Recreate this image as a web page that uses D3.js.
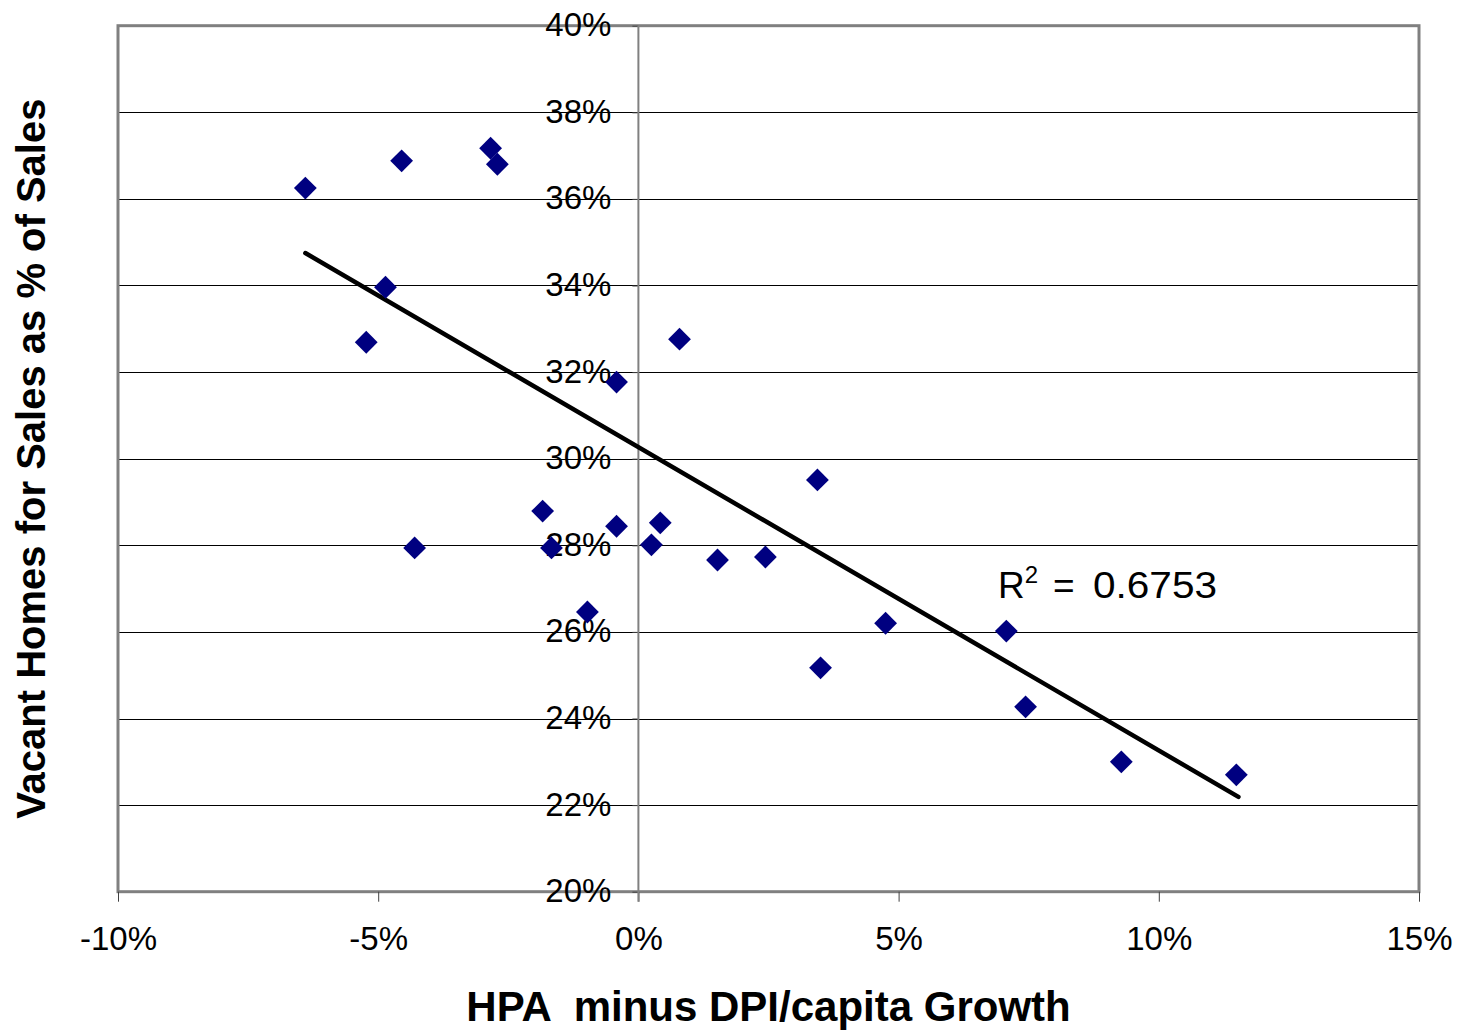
<!DOCTYPE html>
<html>
<head>
<meta charset="utf-8">
<script src="https://cdn.jsdelivr.net/npm/d3@7"></script>
<style>
  body { margin: 0; background: #fff; }
  text { font-family: Arial, "Liberation Sans", sans-serif; fill: #000; white-space: pre; }
</style>
</head>
<body>
<svg width="1463" height="1031"></svg>
<script>
// HPA minus DPI/capita growth (x) vs vacant homes for sale as % of sales (y)
var hpaGap = [-0.0640, -0.0455, -0.0284, -0.0271, -0.0486, -0.0523, -0.0430, -0.0184, -0.0167, -0.0042,
              -0.0042, -0.0098, 0.0025, 0.0042, 0.0079, 0.0152, 0.0244, 0.0344, 0.0350, 0.0475,
              0.0707, 0.0744, 0.0928, 0.1149];
var vacantPct = [0.3625, 0.3688, 0.3717, 0.3680, 0.3396, 0.3269, 0.2794, 0.2879, 0.2794, 0.3177,
                 0.2844, 0.2646, 0.2801, 0.2852, 0.3276, 0.2766, 0.2773, 0.2951, 0.2517, 0.2620,
                 0.2602, 0.2427, 0.2300, 0.2270];
// linear trendline end points as drawn
var trendX = [-0.0640, 0.1153];
var trendY = [0.3475, 0.2219];
var xTicks = [-0.10, -0.05, 0, 0.05, 0.10, 0.15];
var yTicks = [0.20, 0.22, 0.24, 0.26, 0.28, 0.30, 0.32, 0.34, 0.36, 0.38, 0.40];
var r2Value = "0.6753";
var xTitle = "HPA  minus DPI/capita Growth";
var yTitle = "Vacant Homes for Sales as % of Sales";

var points = hpaGap.map(function (d, i) { return { x: d, y: vacantPct[i] }; });
var trend = trendX.map(function (d, i) { return { x: d, y: trendY[i] }; });

var svg = d3.select('svg');
var plotL = 118, plotR = 1419, plotT = 25.7, plotB = 891.7;

var x = d3.scaleLinear().domain([-0.10, 0.15]).range([plotL, plotR]);
var y = d3.scaleLinear().domain([0.20, 0.40]).range([plotB, plotT]);
var pct = function (d) { return Math.round(d * 100) + '%'; };

/* ----------- GRID ----------- */
svg.append('g')
    .selectAll('line')
    .data(yTicks.slice(1, -1))
    .enter()
    .append('line')
    .attr('x1', plotL).attr('x2', plotR)
    .attr('y1', function (d) { return Math.round(y(d)) + 0.5; })
    .attr('y2', function (d) { return Math.round(y(d)) + 0.5; })
    .attr('stroke', '#000')
    .attr('stroke-width', 1);

// plot border
svg.append('rect')
    .attr('x', plotL).attr('y', plotT)
    .attr('width', plotR - plotL).attr('height', plotB - plotT)
    .attr('fill', 'none')
    .attr('stroke', '#808080')
    .attr('stroke-width', 3);

/* ----------- AXES ----------- */
var xAxis = svg.append('g')
    .attr('transform', 'translate(0,' + plotB + ')')
    .call(d3.axisBottom(x).tickValues(xTicks).tickFormat(pct).tickSize(10).tickSizeOuter(0));
xAxis.select('.domain').remove();
xAxis.selectAll('.tick line').attr('stroke', '#404040');
xAxis.selectAll('.tick text')
    .attr('y', 58).attr('dy', null)
    .style('font-size', '33px')
    .style('font-family', 'Arial, "Liberation Sans", sans-serif')
    .attr('fill', '#000');

var yAxis = svg.append('g')
    .attr('transform', 'translate(' + x(0) + ',0)')
    .call(d3.axisLeft(y).tickValues(yTicks).tickFormat(pct).tickSize(6).tickPadding(21).tickSizeOuter(0));
yAxis.select('.domain').remove();
yAxis.selectAll('.tick line').attr('stroke', '#404040');
yAxis.selectAll('.tick text')
    .attr('dy', '0.3em')
    .style('font-size', '33px')
    .style('font-family', 'Arial, "Liberation Sans", sans-serif')
    .attr('fill', '#000');

// vertical zero line
svg.append('line')
    .attr('x1', x(0)).attr('x2', x(0))
    .attr('y1', plotT).attr('y2', plotB + 10)
    .attr('stroke', '#808080')
    .attr('stroke-width', 2);

/* ----------- TRENDLINE ----------- */
svg.append('path')
    .datum(trend)
    .attr('fill', 'none')
    .attr('stroke', '#000')
    .attr('stroke-width', 4.5)
    .attr('stroke-linecap', 'round')
    .attr('d', d3.line().x(function (d) { return x(d.x); }).y(function (d) { return y(d.y); }));

/* ----------- POINTS ----------- */
var diamond = d3.symbol().type(d3.symbolSquare).size(260);
svg.append('g')
    .selectAll('path')
    .data(points)
    .enter()
    .append('path')
    .attr('d', diamond)
    .attr('transform', function (d) { return 'translate(' + x(d.x) + ',' + y(d.y) + ') rotate(45)'; })
    .attr('fill', '#000080');

/* ----------- LABELS ----------- */
var r2 = svg.append('text')
    .attr('x', 998).attr('y', 598)
    .style('font-size', '37px');
r2.append('tspan').text('R');
r2.append('tspan').attr('dy', -15).style('font-size', '24px').text('2');
r2.append('tspan').attr('dy', 15).attr('x', 1053).text('=');
r2.append('tspan').attr('x', 1093).text(r2Value).attr('textLength', 124).attr('lengthAdjust', 'spacingAndGlyphs');

svg.append('text')
    .attr('x', (plotL + plotR) / 2).attr('y', 1021)
    .attr('text-anchor', 'middle')
    .style('font-size', '42px')
    .style('font-weight', 'bold')
    .text(xTitle);

svg.append('text')
    .attr('transform', 'translate(45,' + (plotT + plotB) / 2 + ') rotate(-90)')
    .attr('text-anchor', 'middle')
    .style('font-size', '40px')
    .style('font-weight', 'bold')
    .text(yTitle);
</script>
</body>
</html>
